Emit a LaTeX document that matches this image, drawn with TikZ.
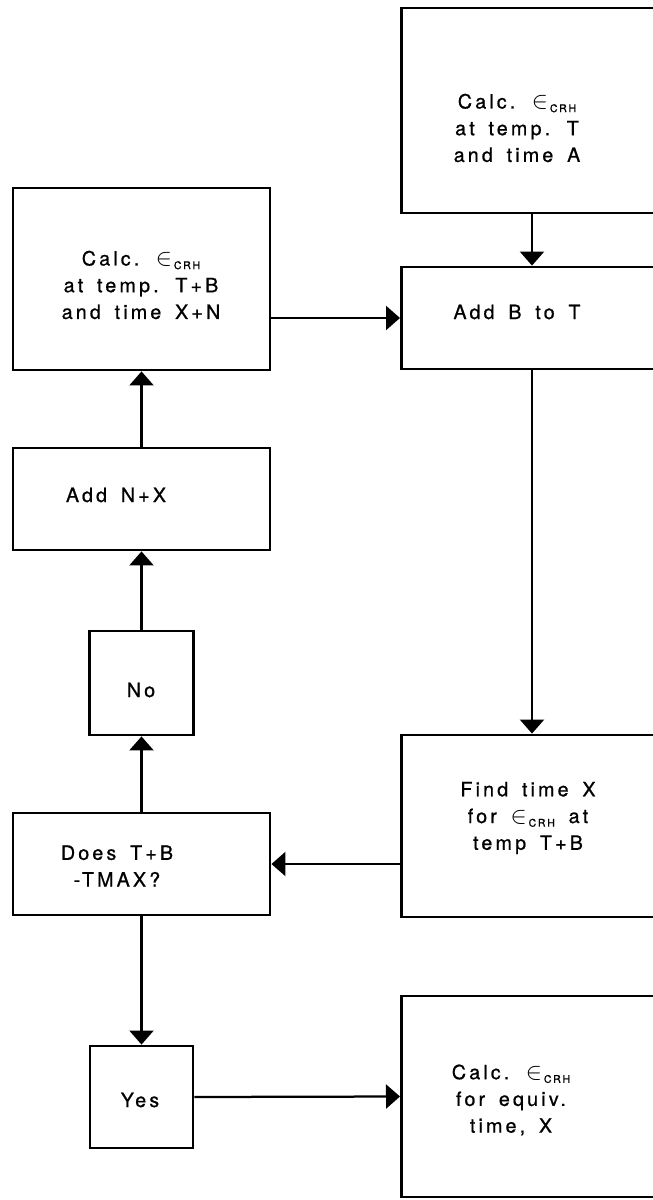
\documentclass[tikz,border=0pt]{standalone}
\usepackage{fontspec}
\setmainfont{TeX Gyre Heros}[LetterSpace=16,FakeBold=0.8,WordSpace=1.6]
\usetikzlibrary{calc}
\usetikzlibrary{arrows.meta}
\newcommand{\ecrh}{{\fontsize{17}{17}\selectfont$\in$}\raisebox{-0.35ex}{\fontsize{7.5}{7.5}\selectfont\,CRH}}
\tikzset{
  box/.style={draw, line width=2pt, inner sep=0pt},
  lbox/.style={box, minimum width=6.425cm},
  rbox/.style={box, anchor=west, minimum width=6.6cm},
  txt/.style={align=center, inner sep=0pt, font=\fontsize{14}{19}\selectfont},
  arr/.style={line width=1.6pt, -{Triangle[length=3.5mm,width=6mm]}}
}

\begin{document}
\begin{tikzpicture}[x=0.025cm,y=-0.025cm]
	\useasboundingbox (0,0) rectangle (652,1200);
	% right column
	\node [rbox, minimum height=5.125cm] (calcA) at (400,110.5) {};
	\node [rbox, minimum height=2.55cm] (addB) at (400,318) {};
	\node [rbox, minimum height=4.55cm] (findX) at (400,826) {};
	\node [rbox, minimum height=5.025cm] (calcX) at (400,1096.5) {};
	% left column
	\node [lbox, minimum height=4.55cm] (calcTB) at (141.5,279) {};
	\node [lbox, minimum height=2.55cm] (addNX) at (141.5,499) {};
	\node [box, minimum width=2.6cm, minimum height=2.6cm] (no) at (141.5,683) {};
	\node [lbox, minimum height=2.55cm] (does) at (141.5,864) {};
	\node [box, minimum width=2.575cm, minimum height=2.55cm] (yes) at (141.5,1097) {};
	% texts
	\node [txt] (calcAtxt) at (517,128) {Calc. \ecrh\\at temp. T\\and time A};
	\node [txt] (addBtxt) at (517,312) {Add B to T};
	\node [txt] (findXtxt) at (528,818) {Find time X\\for \ecrh\ at\\temp T+B};
	\node [txt] (calcXtxt) at (511,1100) {Calc. \ecrh\\for equiv.\\time, X};
	\node [txt] (calcTBtxt) at (141,285) {Calc. \ecrh\\at temp. T+B\\and time X+N};
	\node [txt] (addNXtxt) at (116,495) {Add N+X};
	\node [txt] (notxt) at (141,690) {No};
	\node [txt] (doestxt) at (117,866) {Does T+B\\-TMAX?};
	\node [txt] (yestxt) at (140,1100) {Yes};
	% connectors
	\draw [arr] (calcA.south -| 532,0) -- (addB.north -| 532,0);
	\draw [arr] (addB.south -| 532,0) -- (findX.north -| 532,0);
	\draw [arr] (calcTB.east |- addB.west) -- (addB.west);
	\draw [arr] (addNX.north) -- (calcTB.south);
	\draw [arr] (no.north) -- (addNX.south);
	\draw [arr] (does.north) -- (no.south);
	\draw [arr] (findX.west |- does.east) -- (does.east);
	\draw [arr] (does.south) -- (yes.north);
	\draw [arr] (yes.east) -- (calcX.west);
\end{tikzpicture}
\end{document}
